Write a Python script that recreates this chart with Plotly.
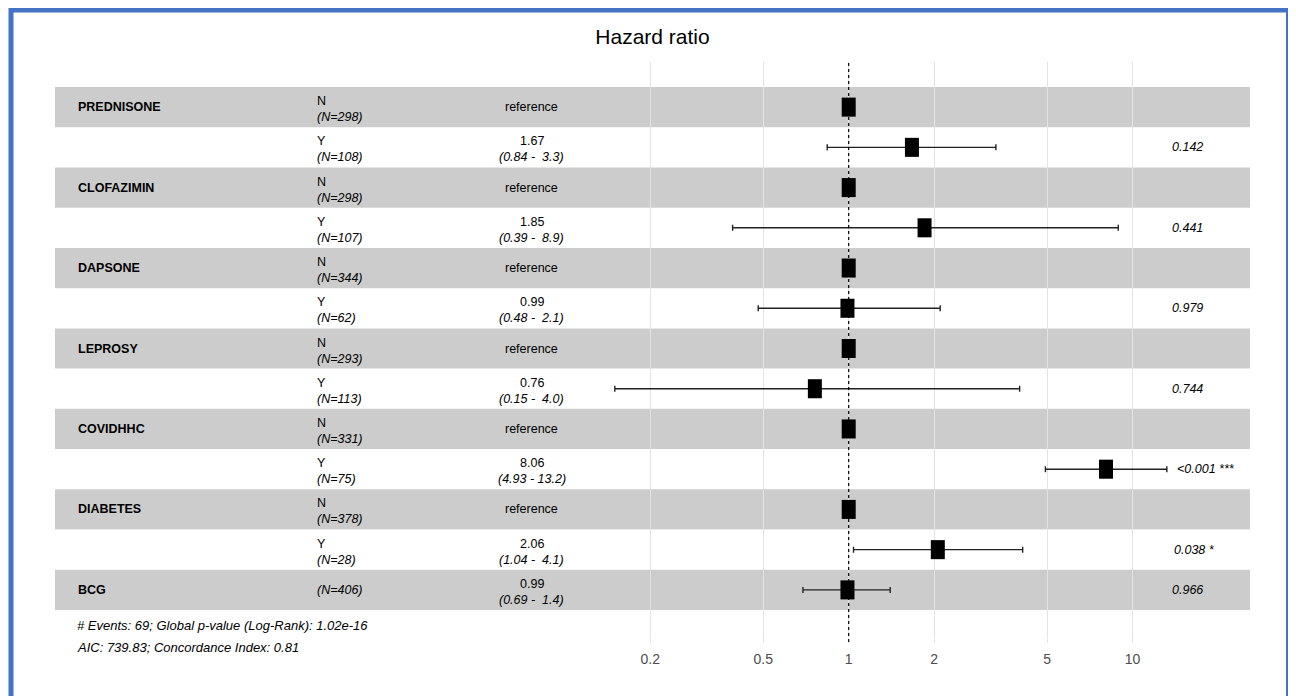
import plotly.graph_objects as go

# ---------------- data ----------------
title_text = "Hazard ratio"
row_var = ["PREDNISONE", "", "CLOFAZIMIN", "", "DAPSONE", "", "LEPROSY", "",
           "COVIDHHC", "", "DIABETES", "", "BCG"]
row_level = ["N", "Y", "N", "Y", "N", "Y", "N", "Y", "N", "Y", "N", "Y", ""]
row_n = [298, 108, 298, 107, 344, 62, 293, 113, 331, 75, 378, 28, 406]
is_reference = [True, False, True, False, True, False, True, False,
                True, False, True, False, False]
hazard = [1, 1.67, 1, 1.85, 1, 0.99, 1, 0.76, 1, 8.06, 1, 2.06, 0.99]
ci_low = [None, 0.84, None, 0.39, None, 0.48, None, 0.15, None, 4.93, None, 1.04, 0.69]
ci_high = [None, 3.3, None, 8.9, None, 2.1, None, 4.0, None, 13.2, None, 4.1, 1.4]
p_label = ["", "0.142", "", "0.441", "", "0.979", "", "0.744", "",
           "<0.001 ***", "", "0.038 *", "0.966"]
x_ticks = [0.2, 0.5, 1, 2, 5, 10]
x_ticktext = ["0.2", "0.5", "1", "2", "5", "10"]
footnote = ["# Events: 69; Global p-value (Log-Rank): 1.02e-16",
            "AIC: 739.83; Concordance Index: 0.81"]

# ---------------- layout geometry (page pixels) ----------------
PAGE_W, PAGE_H = 1296, 696
OFF = 8                     # body margin of the html page
W, H = PAGE_W - OFF, PAGE_H - OFF
PL, PR = 55, 1250           # plot area in page pixels
PT, PB = 62, 638
pw, ph = PR - PL, PB - PT


def px_x(p):
    return (p - PL) / pw


def px_y(p):
    return (PB - p) / ph


FONT = "Liberation Sans, Arial, sans-serif"
TXT = 12.5
rows = list(range(1, len(row_var) + 1))

fig = go.Figure()

ref_x = [h for h, r in zip(hazard, is_reference) if r]
ref_y = [y for y, r in zip(rows, is_reference) if r]
est_x = [h for h, r in zip(hazard, is_reference) if not r]
est_y = [y for y, r in zip(rows, is_reference) if not r]
err_plus = [ci_high[i] - hazard[i] for i in range(len(rows)) if not is_reference[i]]
err_minus = [hazard[i] - ci_low[i] for i in range(len(rows)) if not is_reference[i]]

marker = dict(symbol="line-ns-open", size=13.6, color="black",
              line=dict(width=14, color="black"))

fig.add_trace(go.Scatter(
    x=est_x, y=est_y, mode="markers", marker=marker,
    error_x=dict(type="data", array=err_plus, arrayminus=err_minus,
                 symmetric=False, color="#222222", thickness=1.4, width=3),
    hoverinfo="skip", showlegend=False))
fig.add_trace(go.Scatter(
    x=ref_x, y=ref_y, mode="markers", marker=marker,
    hoverinfo="skip", showlegend=False))

shapes = []
for i, y in enumerate(rows):
    fill = "rgba(0,0,0,0.2)" if i % 2 == 0 else "rgba(255,255,255,0.2)"
    shapes.append(dict(type="rect", xref="paper", yref="y", x0=0, x1=1,
                       y0=y - 0.5, y1=y + 0.5, fillcolor=fill,
                       line=dict(width=0), layer="between"))
shapes.append(dict(type="line", xref="x", yref="paper", x0=1, x1=1,
                   y0=px_y(642), y1=1, line=dict(color="black", width=1.2, dash="dot"),
                   layer="above"))
shapes.append(dict(type="rect", xref="paper", yref="paper",
                   x0=px_x(11), x1=px_x(1288.5), y0=px_y(720), y1=px_y(10),
                   line=dict(color="#4472C4", width=5), fillcolor="rgba(0,0,0,0)",
                   layer="above"))

ann = []
x_var, x_lvl, x_est, x_p = px_x(76), px_x(315), px_x(531.7), px_x(1164)
for i, y in enumerate(rows):
    if row_var[i]:
        ann.append(dict(x=x_var, y=y, xref="paper", yref="y", xanchor="left",
                        yanchor="middle", text="<b>" + row_var[i] + "</b>", showarrow=False,
                        font=dict(size=TXT, color="black", family=FONT)))
    if row_level[i]:
        ann.append(dict(x=x_lvl, y=y, xref="paper", yref="y", xanchor="left",
                        yanchor="middle", yshift=6, text=row_level[i], showarrow=False,
                        font=dict(size=TXT, color="black", family=FONT)))
        nshift = -10
    else:
        nshift = 0
    ann.append(dict(x=x_lvl, y=y, xref="paper", yref="y", xanchor="left",
                    yanchor="middle", yshift=nshift, text="<i>(N=%d)</i>" % row_n[i],
                    showarrow=False, font=dict(size=TXT, color="black", family=FONT)))
    if is_reference[i]:
        ann.append(dict(x=x_est, y=y, xref="paper", yref="y", xanchor="center",
                        yanchor="middle", text="reference", showarrow=False,
                        font=dict(size=TXT, color="black", family=FONT)))
    else:
        hi = "%.1f" % ci_high[i]
        hi = "\u00a0" * (4 - len(hi)) + hi
        ann.append(dict(x=x_est, y=y, xref="paper", yref="y", xanchor="center",
                        yanchor="middle", yshift=6, text="%.2f" % hazard[i],
                        showarrow=False, font=dict(size=TXT, color="black", family=FONT)))
        ann.append(dict(x=x_est, y=y, xref="paper", yref="y", xanchor="center",
                        yanchor="middle", yshift=-10,
                        text="<i>(%.2f -\u00a0%s)</i>" % (ci_low[i], hi),
                        showarrow=False, font=dict(size=TXT, color="black", family=FONT)))
    if p_label[i]:
        ann.append(dict(x=x_p, y=y, xref="paper", yref="y", xanchor="left",
                        yanchor="middle", xshift=round(0.2 * len(p_label[i]) * 5.6),
                        text="<i>" + p_label[i] + "</i>", showarrow=False,
                        font=dict(size=TXT, color="black", family=FONT)))

for line, py in zip(footnote, [625, 647]):
    ann.append(dict(x=px_x(75), y=px_y(py), xref="paper", yref="paper",
                    xanchor="left", yanchor="middle", text="<i>" + line + "</i>",
                    showarrow=False, font=dict(size=13, color="black", family=FONT)))

dec = 283.9
x_range = [(PL - 848.7) / dec, (PR - 848.7) / dec]
row_h = 523 / 13.0
y_range = [13.5 + (PB - 610) / row_h, 0.5 - (87 - PT) / row_h]

fig.update_layout(
    width=W, height=H,
    margin=dict(l=PL - OFF, r=PAGE_W - PR, t=PT - OFF, b=PAGE_H - PB),
    paper_bgcolor="white", plot_bgcolor="white",
    title=dict(text=title_text, x=0.5, xref="paper", y=1 - (37 - OFF) / H,
               yref="container", xanchor="center", yanchor="middle",
               font=dict(size=21, color="black", family=FONT)),
    xaxis=dict(type="log", range=x_range, tickvals=x_ticks, ticktext=x_ticktext,
               showgrid=True, gridcolor="#E3E3E3", gridwidth=1, zeroline=False,
               showline=False, ticks="outside", ticklen=4, tickcolor="#E3E3E3",
               tickfont=dict(size=14, color="#4D4D4D", family=FONT),
               ticklabelstandoff=4),
    yaxis=dict(range=y_range, showgrid=False, zeroline=False, showticklabels=False,
               showline=False),
    shapes=shapes, annotations=ann,
)

fig.write_html("out.html")
